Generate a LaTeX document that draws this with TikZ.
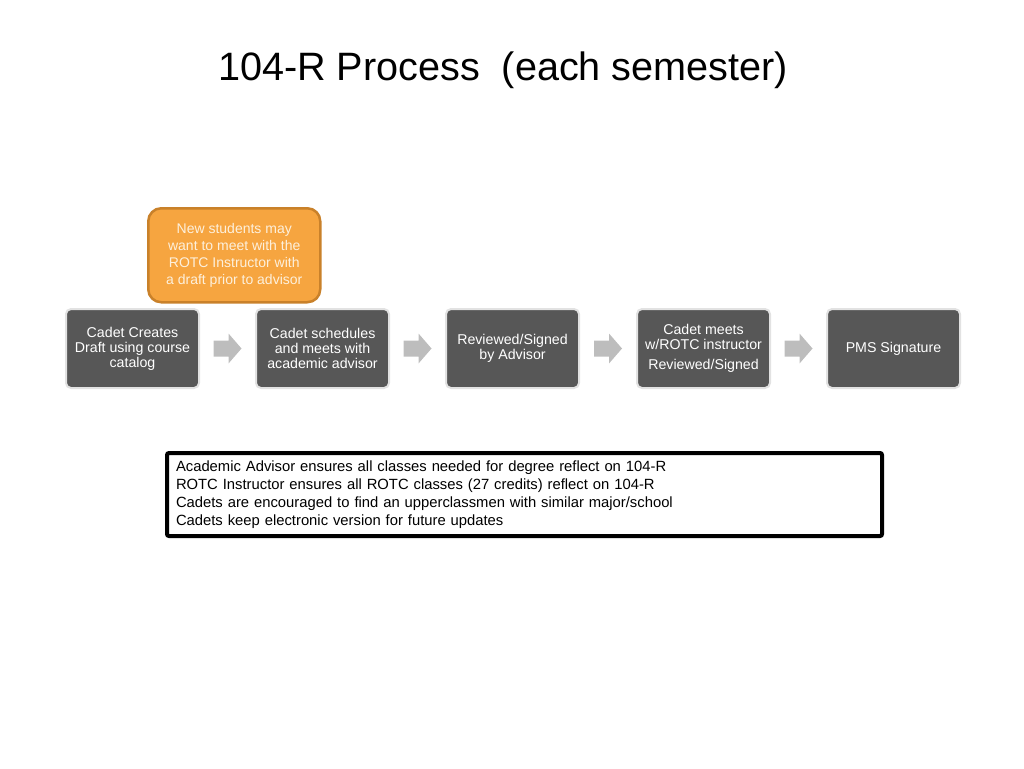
\documentclass[tikz,border=0pt]{standalone}
\usepackage{fontspec}
\setmainfont{Liberation Sans}
\usetikzlibrary{calc}
\definecolor{boxgray}{HTML}{575757}
\definecolor{rimgray}{HTML}{E2E2E2}
\definecolor{arrgray}{HTML}{BDBDBD}
\definecolor{orfill}{HTML}{F6A540}
\definecolor{ordraw}{HTML}{C9812A}
\definecolor{ortext}{HTML}{FDF0DC}
\tikzset{
  stepbox/.style={draw=rimgray, line width=2pt, fill=boxgray, rounded corners=5pt,
    minimum width=133pt, minimum height=79pt, inner sep=2pt, text=white,
    font=\fontsize{14.2pt}{15pt}\selectfont, align=center, anchor=north west},
  notebox/.style={draw=ordraw, line width=2.5pt, fill=orfill, rounded corners=13pt,
    minimum width=172pt, minimum height=94pt, text=ortext,
    font=\fontsize{14pt}{17pt}\selectfont, align=center, anchor=north west},
  infobox/.style={draw=black, line width=4pt, rounded corners=2pt,
    minimum width=715pt, minimum height=83pt, anchor=north west,
    font=\fontsize{14.8pt}{18pt}\selectfont, align=left, text width=697pt, inner xsep=9pt},
}
\begin{document}
\begin{tikzpicture}[x=1pt,y=-1pt]
\useasboundingbox (0,0) rectangle (1024,768);
\node[font=\fontsize{39.6pt}{46pt}\selectfont, anchor=base] (title) at (503,80) {104-R Process\ \ (each semester)};

\node[notebox] (note) at (147,207) {New students may\\want to meet with the\\ROTC Instructor with\\a draft prior to advisor};

\node[stepbox] (b1) at (65,308) {Cadet Creates\\Draft using course\\catalog};
\node[stepbox] (b2) at (255,308) {Cadet schedules\\and meets with\\academic advisor};
\node[stepbox] (b3) at (445,308) {Reviewed/Signed\\by Advisor};
\node[stepbox] (b4) at (636,308) {Cadet meets\\w/ROTC instructor\\[5pt]Reviewed/Signed};
\node[stepbox] (b5) at (826,308) {PMS Signature};

\foreach \a/\b in {b1/b2,b2/b3,b3/b4,b4/b5}{
  \coordinate (m) at ($(\a.east)!0.5!(\b.west)$);
  \fill[arrgray] ($(m)+(-14,-8)$) -- ($(m)+(1,-8)$) -- ($(m)+(1,-15)$) -- ($(m)+(14,0)$)
     -- ($(m)+(1,15)$) -- ($(m)+(1,8)$) -- ($(m)+(-14,8)$) -- cycle;
}

\node[infobox] (info) at (165,451) {Academic Advisor ensures all classes needed for degree reflect on 104-R\\ROTC Instructor ensures all ROTC classes (27 credits) reflect on 104-R\\Cadets are encouraged to find an upperclassmen with similar major/school\\Cadets keep electronic version for future updates};
\end{tikzpicture}
\end{document}
